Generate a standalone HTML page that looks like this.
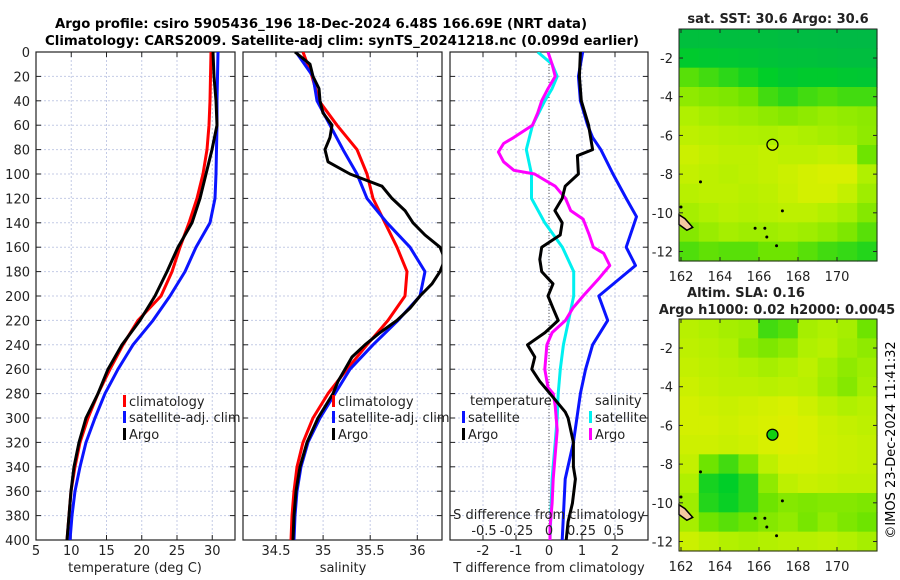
<!DOCTYPE html>
<html><head><meta charset="utf-8"><style>
html,body{margin:0;padding:0;background:#fff;}
svg{display:block;font-family:"DejaVu Sans","Liberation Sans",sans-serif;}
</style></head><body>
<svg id="fig" width="900" height="580" viewBox="0 0 900 580" xmlns="http://www.w3.org/2000/svg">
<defs>
<clipPath id="c1"><rect x="36" y="52" width="199" height="488"/></clipPath>
<clipPath id="c2"><rect x="243" y="52" width="199" height="488"/></clipPath>
<clipPath id="c3"><rect x="450" y="52" width="198" height="488"/></clipPath>
</defs>
<text x="321" y="28" text-anchor="middle" font-weight="bold" font-size="13" textLength="532" lengthAdjust="spacingAndGlyphs">Argo profile: csiro 5905436_196 18-Dec-2024 6.48S 166.69E (NRT data)</text>
<text x="342" y="45" text-anchor="middle" font-weight="bold" font-size="13" textLength="594" lengthAdjust="spacingAndGlyphs">Climatology: CARS2009. Satellite-adj clim: synTS_20241218.nc (0.099d earlier)</text>
<g id="g1"></g><g id="g2"></g><g id="g3"></g><g id="m1"></g><g id="m2"></g>
<text transform="translate(895,440) rotate(-90)" text-anchor="middle" font-size="13">©IMOS 23-Dec-2024 11:41:32</text>
</svg>
<script>
// ---------- data ----------
const depthStd = [0,20,40,60,80,100,120,140,160,180,200,220,240,260,280,300,320,340,360,380,400];
const tempClim = [29.82,29.75,29.68,29.54,29.26,28.69,27.84,26.70,25.43,24.29,22.73,19.47,17.34,15.50,13.79,12.38,11.24,10.53,9.96,9.68,9.40];
const tempSat  = [30.82,30.74,30.67,30.67,30.60,30.53,30.39,29.68,27.70,26.13,24.01,21.60,18.76,16.63,14.79,13.37,12.09,11.24,10.53,10.11,9.82];
const tempArgo = [30.11,30.25,30.53,30.67,29.96,29.11,28.26,27.13,25.14,23.58,21.88,19.75,17.20,15.21,13.79,12.09,11.10,10.39,9.96,9.68,9.40];
const salClim = [34.787,34.882,34.956,35.148,35.360,35.466,35.530,35.657,35.785,35.891,35.869,35.689,35.466,35.254,35.052,34.893,34.787,34.723,34.691,34.670,34.659];
const salSat  = [34.712,34.893,34.935,35.073,35.211,35.360,35.466,35.678,35.923,36.082,36.029,35.795,35.530,35.286,35.126,34.967,34.840,34.765,34.723,34.702,34.691];
const argoSalDepth = [0,10,20,30,40,50,60,70,80,90,100,110,120,130,140,150,160,170,180,190,200,210,220,230,240,250,260,270,280,300,320,340,360,380,400];
const salArgo = [34.702,34.861,34.893,34.956,34.967,34.999,35.094,35.073,35.020,35.052,35.286,35.625,35.731,35.869,35.954,36.082,36.241,36.294,36.241,36.156,36.029,35.923,35.785,35.604,35.445,35.307,35.233,35.158,35.105,34.946,34.829,34.755,34.712,34.691,34.680];
const dTSatDepth = [0,20,40,60,70,80,100,120,135,160,175,200,220,240,260,280,320,350,400];
const dTSat = [1.02,0.89,0.95,1.17,1.32,1.57,1.94,2.34,2.65,2.34,2.62,1.51,1.78,1.32,1.11,0.95,0.74,0.49,0.40];
const dTArgoDepth = [0,20,40,60,80,85,100,110,120,130,140,150,160,170,180,190,200,210,220,230,240,250,260,270,280,295,300,320,340,350,370,385,400];
const dTArgo = [0.95,0.92,0.98,1.20,1.32,0.86,0.89,0.49,0.40,0.18,0.40,0.34,-0.22,-0.28,-0.22,0.12,-0.03,0.12,0.28,-0.12,-0.65,-0.43,-0.52,-0.28,0.03,0.49,0.58,0.74,0.74,0.80,0.71,0.58,0.52];
const dSSatDepth = [0,10,20,30,40,60,80,100,120,140,160,180,200,220,240,260,280,300,320,350,400];
const dSSat = [-0.087,0.024,0.063,0.024,-0.032,-0.127,-0.175,-0.135,-0.135,-0.032,0.103,0.190,0.190,0.151,0.111,0.087,0.071,0.063,0.048,0.024,0.008];
const dSArgoDepth = [0,10,20,30,40,50,60,70,75,82,90,97,100,105,110,120,130,137,150,160,165,175,185,200,210,220,230,240,260,275,280,290,310,330,350,370,390,400];
const dSArgo = [-0.008,0.024,0.048,-0.008,-0.056,-0.087,-0.127,-0.270,-0.349,-0.389,-0.349,-0.270,-0.111,-0.032,0.048,0.127,0.167,0.262,0.310,0.341,0.421,0.468,0.389,0.262,0.183,0.127,0.024,-0.016,-0.032,-0.008,0.032,0.048,0.063,0.048,0.032,0.024,0.008,0.008];
const depthTicks = [0,20,40,60,80,100,120,140,160,180,200,220,240,260,280,300,320,340,360,380,400];
const tempTicks = [5,10,15,20,25,30];
const salTicks = [34.5,35,35.5,36];
const dTTicks = [-2,-1,0,1,2];
const dSTickLabels = ["-0.5","-0.25","0","0.25","0.5"];
const dSTicks = [-0.5,-0.25,0,0.25,0.5];
const latTicks = [-2,-4,-6,-8,-10,-12];
const lonTicks = [162,164,166,168,170];
const sstGrid = [
[0.10,0.10,0.08,0.08,0.08,0.06,0.05,0.04,0.03,0.03],
[0.25,0.22,0.20,0.18,0.15,0.12,0.12,0.10,0.08,0.08],
[0.50,0.45,0.40,0.35,0.30,0.22,0.25,0.25,0.22,0.20],
[0.65,0.62,0.60,0.55,0.45,0.40,0.45,0.48,0.45,0.45],
[0.75,0.72,0.70,0.68,0.65,0.62,0.65,0.68,0.66,0.64],
[0.80,0.78,0.76,0.75,0.74,0.76,0.74,0.72,0.70,0.65],
[0.85,0.82,0.80,0.80,0.82,0.80,0.80,0.82,0.80,0.55],
[0.82,0.80,0.78,0.80,0.82,0.85,0.88,0.90,0.90,0.75],
[0.78,0.80,0.80,0.78,0.80,0.84,0.88,0.88,0.82,0.70],
[0.72,0.75,0.78,0.76,0.78,0.80,0.80,0.76,0.72,0.62],
[0.62,0.68,0.72,0.70,0.70,0.72,0.70,0.66,0.60,0.50],
[0.48,0.52,0.50,0.50,0.55,0.55,0.50,0.45,0.42,0.38]];
const slaGrid = [
[0.78,0.75,0.72,0.70,0.45,0.50,0.72,0.75,0.72,0.55],
[0.80,0.78,0.75,0.65,0.60,0.65,0.75,0.78,0.70,0.65],
[0.82,0.80,0.78,0.75,0.72,0.75,0.80,0.72,0.65,0.70],
[0.85,0.82,0.80,0.80,0.78,0.80,0.78,0.70,0.62,0.72],
[0.88,0.86,0.84,0.86,0.88,0.90,0.86,0.80,0.75,0.78],
[0.88,0.88,0.86,0.88,0.90,0.92,0.90,0.85,0.82,0.80],
[0.86,0.86,0.84,0.86,0.90,0.92,0.90,0.86,0.84,0.82],
[0.82,0.55,0.45,0.60,0.80,0.88,0.88,0.86,0.84,0.82],
[0.75,0.35,0.30,0.40,0.65,0.80,0.84,0.82,0.80,0.80],
[0.70,0.38,0.32,0.40,0.55,0.62,0.60,0.62,0.62,0.60],
[0.72,0.55,0.50,0.55,0.62,0.66,0.58,0.66,0.60,0.55],
[0.85,0.80,0.76,0.74,0.76,0.78,0.78,0.80,0.76,0.72]];
const argoLon = 166.69, argoLat = -6.48;

// ---------- helpers ----------
const NS = "http://www.w3.org/2000/svg";
function mk(parent, tag, attrs, txt){
  const e = document.createElementNS(NS, tag);
  for (const k in attrs) e.setAttribute(k, attrs[k]);
  if (txt !== undefined) e.textContent = txt;
  parent.appendChild(e); return e;
}
const Y0 = 52, Y1 = 540;
const yD = d => Y0 + d * (Y1 - Y0) / 400;
const xT = v => 36 + (v - 5) * 7.05;
const xS = v => 276 + (v - 34.5) * 94.2;
const xDT = v => 549 + v * 33;
const xDS = v => 549 + v * 130;

function panel(g, x0, x1, gridVals, xf, clipId, name){
  const bg = mk(g, 'g', {});
  
  
  depthTicks.forEach(d => {
    const l = mk(bg, 'line', {x1:x0, x2:x1, y1:yD(d), y2:yD(d), stroke:'#c4cbe6', 'stroke-width':1, 'stroke-dasharray':'2,2'});
    
    
    mk(bg, 'line', {x1:x0, x2:x0+5, y1:yD(d), y2:yD(d), stroke:'#222', 'stroke-width':1});
    mk(bg, 'line', {x1:x1-5, x2:x1, y1:yD(d), y2:yD(d), stroke:'#222', 'stroke-width':1});
  });
  gridVals.forEach(v => {
    const x = xf(v);
    if (x <= x0 + 1 || x >= x1 - 1) return;
    const l = mk(bg, 'line', {x1:x, x2:x, y1:Y0, y2:Y1, stroke:'#c4cbe6', 'stroke-width':1, 'stroke-dasharray':'2,2'});
    
    
    mk(bg, 'line', {x1:x, x2:x, y1:Y1, y2:Y1-5, stroke:'#222', 'stroke-width':1});
    mk(bg, 'line', {x1:x, x2:x, y1:Y0, y2:Y0+5, stroke:'#222', 'stroke-width':1});
  });
  const fr = mk(g, 'rect', {x:x0, y:Y0, width:x1-x0, height:Y1-Y0, fill:'none', stroke:'#222', 'stroke-width':1.2});
  
  
  return mk(g, 'g', {'clip-path':'url(#' + clipId + ')'});
}
function curve(g, depths, vals, xf, color, name){
  const pts = depths.map((d,i) => xf(vals[i]).toFixed(1) + ',' + yD(d).toFixed(1)).join(' ');
  const p = mk(g, 'polyline', {points:pts, fill:'none', stroke:color, 'stroke-width':3, 'stroke-linejoin':'round'});
  
  
}
function legendEntry(g, x, y, color, label, name){
  const e = mk(g, 'g', {});
  
  
  mk(e, 'rect', {x:x, y:y-11, width:3, height:12, fill:color});
  mk(e, 'text', {x:x+6, y:y, 'font-size':13, fill:'#222'}, label);
}
function label(g, x, y, txt, anchor, name, size){
  const t = mk(g, 'text', {x:x, y:y, 'text-anchor':anchor, 'font-size':size||13, fill:'#222'}, txt);
  
  
  return t;
}

// ---------- panel 1 temperature ----------
const g1 = document.getElementById('g1');
const p1 = panel(g1, 36, 235, tempTicks, xT, 'c1', 'temperature-panel');
depthTicks.forEach(d => label(g1, 30, yD(d)+5, String(d), 'end', 'depth-tick-label'));
tempTicks.forEach(v => label(g1, xT(v), 555, String(v), 'middle', 'temperature-tick-label'));
label(g1, 135, 572, 'temperature (deg C)', 'middle', 'temperature-axis-title');
curve(p1, depthStd, tempClim, xT, '#ff0000', 'temperature-climatology-line');
curve(p1, depthStd, tempSat, xT, '#0a14ff', 'temperature-satellite-line');
curve(p1, depthStd, tempArgo, xT, '#000000', 'temperature-argo-line');
legendEntry(g1, 123, 406, '#ff0000', 'climatology', 'legend-climatology');
legendEntry(g1, 123, 422, '#0a14ff', 'satellite-adj. clim', 'legend-satellite');
legendEntry(g1, 123, 439, '#000000', 'Argo', 'legend-argo');

// ---------- panel 2 salinity ----------
const g2 = document.getElementById('g2');
const p2 = panel(g2, 243, 442, salTicks, xS, 'c2', 'salinity-panel');
salTicks.forEach(v => label(g2, xS(v), 555, String(v), 'middle', 'salinity-tick-label'));
label(g2, 343, 572, 'salinity', 'middle', 'salinity-axis-title');
curve(p2, depthStd, salClim, xS, '#ff0000', 'salinity-climatology-line');
curve(p2, depthStd, salSat, xS, '#0a14ff', 'salinity-satellite-line');
curve(p2, argoSalDepth, salArgo, xS, '#000000', 'salinity-argo-line');
legendEntry(g2, 332, 406, '#ff0000', 'climatology', 'legend-climatology-2');
legendEntry(g2, 332, 422, '#0a14ff', 'satellite-adj. clim', 'legend-satellite-2');
legendEntry(g2, 332, 439, '#000000', 'Argo', 'legend-argo-2');

// ---------- panel 3 differences ----------
const g3 = document.getElementById('g3');
const p3 = panel(g3, 450, 648, dTTicks, xDT, 'c3', 'difference-panel');
const zl = mk(p3, 'line', {x1:xDT(0), x2:xDT(0), y1:Y0, y2:Y1, stroke:'#555', 'stroke-width':1, 'stroke-dasharray':'1,2'});


dTTicks.forEach(v => label(g3, xDT(v), 555, String(v), 'middle', 'tdiff-tick-label'));
label(g3, 549, 572, 'T difference from climatology', 'middle', 'tdiff-axis-title');
curve(p3, dSSatDepth, dSSat, xDS, '#00f0f0', 'sdiff-satellite-line');
curve(p3, dSArgoDepth, dSArgo, xDS, '#ff00ff', 'sdiff-argo-line');
curve(p3, dTSatDepth, dTSat, xDT, '#0a14ff', 'tdiff-satellite-line');
curve(p3, dTArgoDepth, dTArgo, xDT, '#000000', 'tdiff-argo-line');
label(g3, 549, 519, 'S difference from climatology', 'middle', 'sdiff-axis-title');
dSTicks.forEach((v,i) => label(g3, xDS(v), 535, dSTickLabels[i], 'middle', 'sdiff-tick-label'));
label(g3, 470, 405, 'temperature', 'start', 'legend-temperature-heading');
legendEntry(g3, 462, 422, '#0a14ff', 'satellite', 'legend-tdiff-satellite');
legendEntry(g3, 462, 439, '#000000', 'Argo', 'legend-tdiff-argo');
label(g3, 595, 405, 'salinity', 'start', 'legend-salinity-heading');
legendEntry(g3, 589, 422, '#00f0f0', 'satellite', 'legend-sdiff-satellite');
legendEntry(g3, 589, 439, '#ff00ff', 'Argo', 'legend-sdiff-argo');

// ---------- maps ----------
const stops = [[0,[0,184,72]],[0.3,[0,206,40]],[0.55,[110,228,0]],[0.75,[176,240,0]],[0.9,[216,240,0]],[1,[240,232,0]]];
function cmap(v){
  for (let i=1;i<stops.length;i++){
    if (v <= stops[i][0]){
      const a=stops[i-1], b=stops[i], t=(v-a[0])/(b[0]-a[0]);
      const c=a[1].map((x,j)=>Math.round(x+(b[1][j]-x)*t));
      return 'rgb('+c.join(',')+')';
    }
  }
  return 'rgb(240,232,0)';
}
function drawMap(g, top, grid, filled, name){
  const L=679, R=877, B=top+232;
  const lonX = lon => 681 + (lon-162)*19.5;
  const latY = lat => top + (-0.5-lat)*19.35;
  const rows=grid.length, cols=grid[0].length, cw=(R-L)/cols, ch=(B-top)/rows;
  grid.forEach((row,r)=>row.forEach((v,c)=>{
    const cell = mk(g,'rect',{x:(L+c*cw).toFixed(2), y:(top+r*ch).toFixed(2), width:(cw+0.6).toFixed(2), height:(ch+0.6).toFixed(2), fill:cmap(v)});
    
    
  }));
  const isl = mk(g,'path',{d:`M${L} ${latY(-10.1)} L${lonX(162.2)} ${latY(-10.3)} L${lonX(162.6)} ${latY(-10.75)} L${lonX(162.3)} ${latY(-10.9)} L${L} ${latY(-10.6)} Z`, fill:'#f4c8a0', stroke:'#000', 'stroke-width':1.5});
  
  
  [[162.0,-9.7],[165.8,-10.8],[166.3,-10.8],[166.4,-11.25],[166.9,-11.7],[163.0,-8.4],[167.2,-9.9]].forEach(p=>{
    mk(g,'circle',{cx:lonX(p[0]),cy:latY(p[1]),r:1.5,fill:'#000'});
  });
  const fr = mk(g,'rect',{x:L,y:top,width:R-L,height:B-top,fill:'none',stroke:'#222','stroke-width':1});
  
  
  latTicks.forEach(lat=>{
    const y=latY(lat);
    mk(g,'line',{x1:L,x2:L+4,y1:y,y2:y,stroke:'#222'});
    mk(g,'line',{x1:R-4,x2:R,y1:y,y2:y,stroke:'#222'});
    label(g, L-6, y+5, String(lat), 'end', name + '-lat-label');
  });
  lonTicks.forEach(lon=>{
    const x=lonX(lon);
    mk(g,'line',{x1:x,x2:x,y1:B,y2:B-4,stroke:'#222'});
    mk(g,'line',{x1:x,x2:x,y1:top,y2:top+4,stroke:'#222'});
    label(g, x, B+20, String(lon), 'middle', name + '-lon-label');
  });
  const m = mk(g,'circle',{cx:lonX(argoLon),cy:latY(argoLat),r:5.5,fill:filled?'#10d010':'none',stroke:'#000','stroke-width':1.3});
  
  
}
const m1 = document.getElementById('m1');
drawMap(m1, 29, sstGrid, false, 'sst-map');
const t1 = label(m1, 778, 23, 'sat. SST: 30.6 Argo: 30.6', 'middle', 'sst-map-title');
t1.setAttribute('font-weight','bold');
const m2 = document.getElementById('m2');
drawMap(m2, 319, slaGrid, true, 'sla-map');
const t2 = label(m2, 746, 297, 'Altim. SLA: 0.16', 'middle', 'sla-map-title');
t2.setAttribute('font-weight','bold');
const t3 = label(m2, 777, 314, 'Argo h1000: 0.02 h2000: 0.0045', 'middle', 'sla-map-subtitle');
t3.setAttribute('font-weight','bold');
</script>
</body></html>
